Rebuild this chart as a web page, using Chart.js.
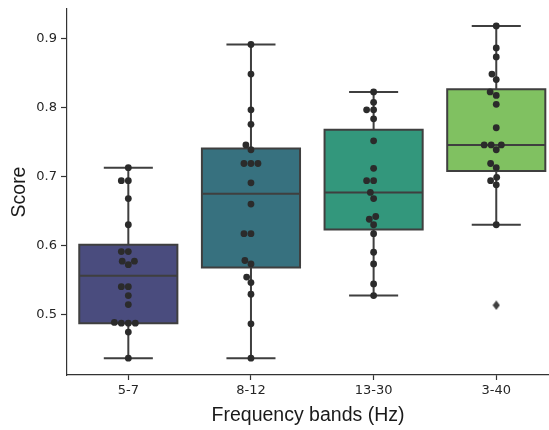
<!DOCTYPE html>
<html>
<head>
<meta charset="utf-8">
<script src="https://cdn.jsdelivr.net/npm/chart.js@4.4.1/dist/chart.umd.min.js"></script>
<style>
  html, body { margin: 0; padding: 0; background: #ffffff; }
  #wrap { width: 549px; height: 430px; }
</style>
</head>
<body>
<div id="wrap"><canvas id="c" width="549" height="430"></canvas></div>
<script>
// ---------- data ----------
const categories = ['5-7', '8-12', '13-30', '3-40'];
const yTicks = [0.5, 0.6, 0.7, 0.8, 0.9];

// individual scores (swarm points)
const band5to7 = [0.713, 0.694, 0.694, 0.668, 0.630, 0.591, 0.591, 0.577, 0.577, 0.572,
                  0.540, 0.540, 0.527, 0.514, 0.487, 0.487, 0.487, 0.488, 0.474, 0.436];
const band8to12 = [0.892, 0.849, 0.797, 0.776, 0.746, 0.739, 0.719, 0.719, 0.719, 0.691,
                   0.660, 0.617, 0.617, 0.578, 0.573, 0.554, 0.546, 0.529, 0.486, 0.436];
const band13to30 = [0.823, 0.808, 0.797, 0.797, 0.784, 0.752, 0.712, 0.694, 0.694, 0.677,
                    0.668, 0.642, 0.638, 0.630, 0.617, 0.590, 0.573, 0.544, 0.527];
const band3to40 = [0.919, 0.887, 0.874, 0.849, 0.841, 0.823, 0.818, 0.805, 0.771, 0.746,
                   0.746, 0.746, 0.739, 0.719, 0.713, 0.699, 0.694, 0.688, 0.630];
const bandValues = [band5to7, band8to12, band13to30, band3to40];

// box statistics
const q1s      = [0.487, 0.568, 0.623, 0.708];
const medians  = [0.556, 0.675, 0.677, 0.746];
const q3s      = [0.601, 0.741, 0.768, 0.827];
const whiskLo  = [0.436, 0.436, 0.527, 0.630];
const whiskHi  = [0.713, 0.892, 0.823, 0.919];
const outlierCat = [3];
const outlierVal = [0.513];

// ---------- styles ----------
const boxColors = ['#4a4c7e', '#37717f', '#33977c', '#80c161'];
const LINE = '#3f3f3f';
const DOT = '#2b2b2b';
const Y_MIN = 0.4116, Y_MAX = 0.9436;
const X_MIN = -0.5, X_MAX = 3.43;
const DOT_D = 7;

// thin diamond marker for fliers
const diamond = (() => {
  const c = document.createElement('canvas');
  c.width = 8; c.height = 10;
  const g = c.getContext('2d');
  g.fillStyle = LINE;
  g.beginPath();
  g.moveTo(4, 0.3); g.lineTo(7.6, 5); g.lineTo(4, 9.7); g.lineTo(0.4, 5);
  g.closePath(); g.fill();
  return c;
})();

// ---------- plugin drawing box outline, median, whiskers ----------
const boxDecor = {
  id: 'boxDecor',
  afterDatasetDraw(chart, args) {
    if (args.index !== 0) return;
    const ctx = chart.ctx, yS = chart.scales.y;
    ctx.save();
    ctx.strokeStyle = LINE;
    ctx.lineWidth = 2;
    ctx.lineCap = 'butt';
    args.meta.data.forEach((bar, i) => {
      const p = bar.getProps(['x', 'width'], true);
      const x = p.x, w = p.width;
      const left = x - w / 2, right = x + w / 2;
      const y1 = yS.getPixelForValue(q1s[i]);
      const y3 = yS.getPixelForValue(q3s[i]);
      const ym = yS.getPixelForValue(medians[i]);
      const yl = yS.getPixelForValue(whiskLo[i]);
      const yh = yS.getPixelForValue(whiskHi[i]);
      ctx.beginPath();
      ctx.rect(left, y3, w, y1 - y3);
      ctx.stroke();
      ctx.beginPath();
      ctx.moveTo(left, ym); ctx.lineTo(right, ym);
      ctx.moveTo(x, y3); ctx.lineTo(x, yh);
      ctx.moveTo(x - w / 4, yh); ctx.lineTo(x + w / 4, yh);
      ctx.moveTo(x, y1); ctx.lineTo(x, yl);
      ctx.moveTo(x - w / 4, yl); ctx.lineTo(x + w / 4, yl);
      ctx.stroke();
    });
    ctx.restore();
  }
};

// ---------- beeswarm (pixel space) ----------
function beeswarm(ys, d) {
  const order = ys.map((y, i) => i).sort((a, b) => ys[b] - ys[a]); // ascending value
  const placed = [];
  const out = new Array(ys.length).fill(0);
  for (const i of order) {
    const y = ys[i];
    const neigh = placed.filter(p => Math.abs(p.y - y) < d);
    const lefts = [], rights = [];
    neigh.forEach(n => {
      const dy = y - n.y;
      const dx = Math.sqrt(Math.max(0, d * d - dy * dy));
      lefts.push(n.x - dx); rights.push(n.x + dx);
    });
    const all = [0].concat(lefts, rights)
      .map((c, k) => ({ c, k }))
      .sort((a, b) => (Math.abs(a.c) - Math.abs(b.c)) || (a.k - b.k));
    let chosen = 0;
    for (const { c } of all) {
      if (neigh.every(n => (c - n.x) ** 2 + (y - n.y) ** 2 >= d * d - 1e-6)) { chosen = c; break; }
    }
    out[i] = chosen;
    placed.push({ x: chosen, y });
  }
  return out;
}

// ---------- chart ----------
const boxData = categories.map((c, i) => ({ x: i, y: [q1s[i], q3s[i]] }));
const initialPoints = [];
bandValues.forEach((vals, g) => vals.forEach(v => initialPoints.push({ x: g, y: v })));
const outlierData = outlierCat.map((c, i) => ({ x: c, y: outlierVal[i] }));

const tickFont = { family: 'DejaVu Sans', size: 13 };
const titleFont = { family: 'Liberation Sans', size: 19.5 };

const chart = new Chart(document.getElementById('c'), {
  type: 'bar',
  data: {
    datasets: [
      {
        type: 'bar',
        data: boxData,
        backgroundColor: boxColors,
        borderWidth: 0,
        barPercentage: 0.8,
        categoryPercentage: 1.0,
        order: 3
      },
      {
        type: 'scatter',
        data: initialPoints,
        pointRadius: 3.4,
        pointBackgroundColor: DOT,
        pointBorderWidth: 0,
        order: 2
      },
      {
        type: 'scatter',
        data: outlierData,
        pointStyle: diamond,
        pointRadius: 5,
        order: 1
      }
    ]
  },
  options: {
    responsive: false,
    animation: false,
    layout: { autoPadding: false, padding: { top: 9, right: 0, bottom: 0, left: 0 } },
    plugins: { legend: { display: false }, tooltip: { enabled: false } },
    scales: {
      x: {
        type: 'linear',
        min: X_MIN,
        max: X_MAX,
        offset: false,
        afterBuildTicks: s => { s.ticks = categories.map((c, i) => ({ value: i })); },
        afterFit: s => { s.height = 55; s.paddingLeft = 0; s.paddingRight = 0; },
        grid: { display: true, offset: false, drawOnChartArea: false, drawTicks: true, tickLength: 5, tickColor: '#333333', tickWidth: 1.2 },
        border: { display: true, color: '#333333', width: 1.2 },
        ticks: {
          font: tickFont, color: '#262626', padding: 3, maxRotation: 0, autoSkip: false,
          callback: v => categories[v]
        },
        title: { display: true, text: 'Frequency bands (Hz)', font: titleFont, color: '#1a1a1a', padding: { top: 0, bottom: 3 } }
      },
      y: {
        type: 'linear',
        min: Y_MIN,
        max: Y_MAX,
        afterBuildTicks: s => { s.ticks = yTicks.map(v => ({ value: v })); },
        afterFit: s => { s.width = 67; s.paddingTop = 0; s.paddingBottom = 0; },
        grid: { display: true, drawOnChartArea: false, drawTicks: true, tickLength: 6, tickColor: '#333333', tickWidth: 1.2 },
        border: { display: true, color: '#333333', width: 1.2 },
        ticks: { font: tickFont, color: '#262626', padding: 4, callback: v => v.toFixed(1) },
        title: { display: true, text: 'Score', font: titleFont, color: '#1a1a1a', padding: { top: 8, bottom: 0 } }
      }
    }
  },
  plugins: [boxDecor]
});

// place swarm points using the chart's own scales
(function placeSwarm() {
  const xS = chart.scales.x, yS = chart.scales.y;
  const pts = [];
  bandValues.forEach((vals, g) => {
    const pix = vals.map(v => yS.getPixelForValue(v));
    const offs = beeswarm(pix, DOT_D);
    const cx = xS.getPixelForValue(g);
    vals.forEach((v, k) => pts.push({ x: xS.getValueForPixel(cx + offs[k]), y: v }));
  });
  chart.data.datasets[1].data = pts;
  chart.update('none');
})();
</script>
</body>
</html>
